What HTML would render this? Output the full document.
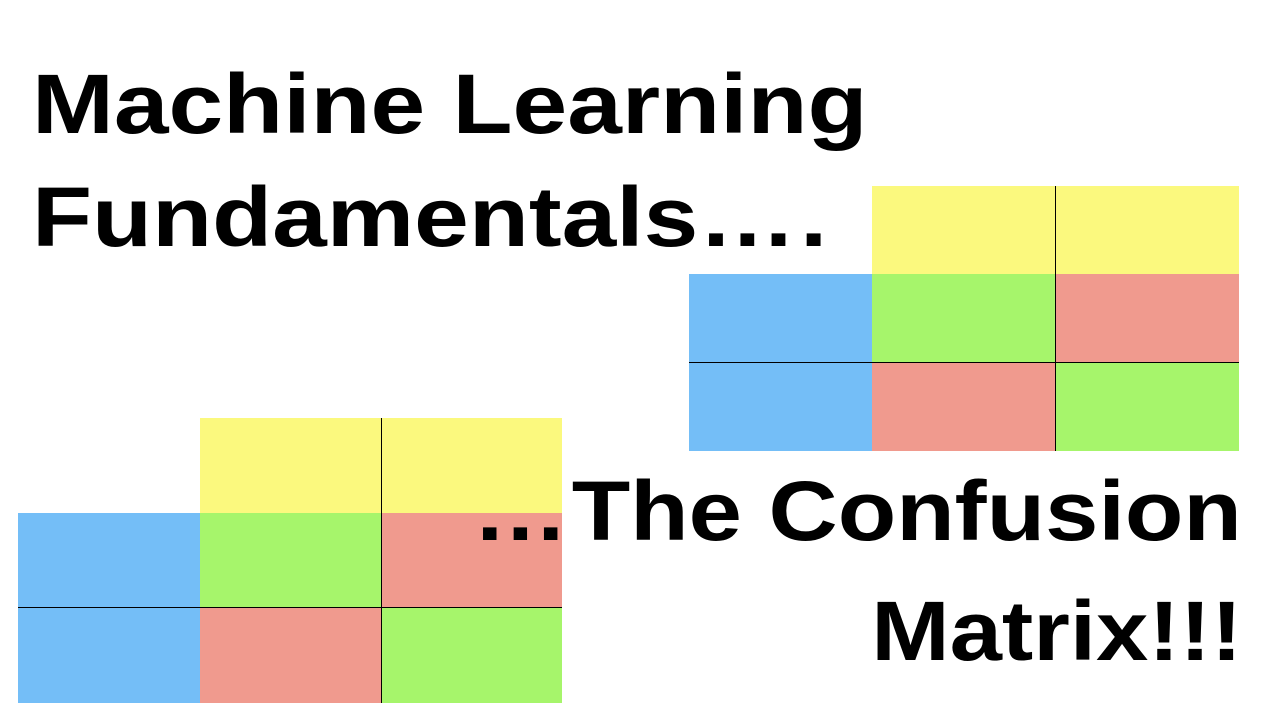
<!DOCTYPE html>
<html><head><meta charset="utf-8"><style>
html,body{margin:0;padding:0;background:#fff;width:1280px;height:720px;overflow:hidden;position:relative;font-family:"Liberation Sans",Arial,sans-serif}
.c{position:absolute}
.y{background:#FBF97E}.b{background:#74BEF7}.g{background:#A6F56B}.r{background:#F09A8E}
.t{position:absolute;font-weight:bold;font-size:84px;line-height:1;color:#000;white-space:nowrap;transform:scaleX(1.17)}
.tl{transform-origin:left top}.tr{transform-origin:right top}
.l{position:absolute;background:#000}
</style></head><body>
<div class="c y" style="left:872px;top:186px;width:367px;height:88px"></div>
<div class="c b" style="left:689px;top:274px;width:183px;height:177px"></div>
<div class="c g" style="left:872px;top:274px;width:183px;height:88px"></div>
<div class="c r" style="left:1055px;top:274px;width:184px;height:88px"></div>
<div class="c r" style="left:872px;top:362px;width:183px;height:89px"></div>
<div class="c g" style="left:1055px;top:362px;width:184px;height:89px"></div>
<div class="l" style="left:1055px;top:186px;width:1px;height:265px"></div>
<div class="l" style="left:689px;top:362px;width:550px;height:1px"></div>
<div class="c y" style="left:200px;top:418px;width:362px;height:95px"></div>
<div class="c b" style="left:18px;top:513px;width:182px;height:190px"></div>
<div class="c g" style="left:200px;top:513px;width:181px;height:94px"></div>
<div class="c r" style="left:381px;top:513px;width:181px;height:94px"></div>
<div class="c r" style="left:200px;top:607px;width:181px;height:96px"></div>
<div class="c g" style="left:381px;top:607px;width:181px;height:96px"></div>
<div class="l" style="left:381px;top:418px;width:1px;height:285px"></div>
<div class="l" style="left:18px;top:607px;width:544px;height:1px"></div>
<div class="t tl" style="left:32px;top:62px">Machine Learning</div>
<div class="t tl" style="left:32px;top:175px">Fundamentals<span style="letter-spacing:3px">….</span></div>
<div class="t tr" style="right:38px;top:469px;transform:scaleX(1.14)"><span style="letter-spacing:3px">…</span>The Confusion</div>
<div class="t tr" style="right:38px;top:589px;transform:scaleX(1.12)">Matrix!!!</div>
</body></html>
